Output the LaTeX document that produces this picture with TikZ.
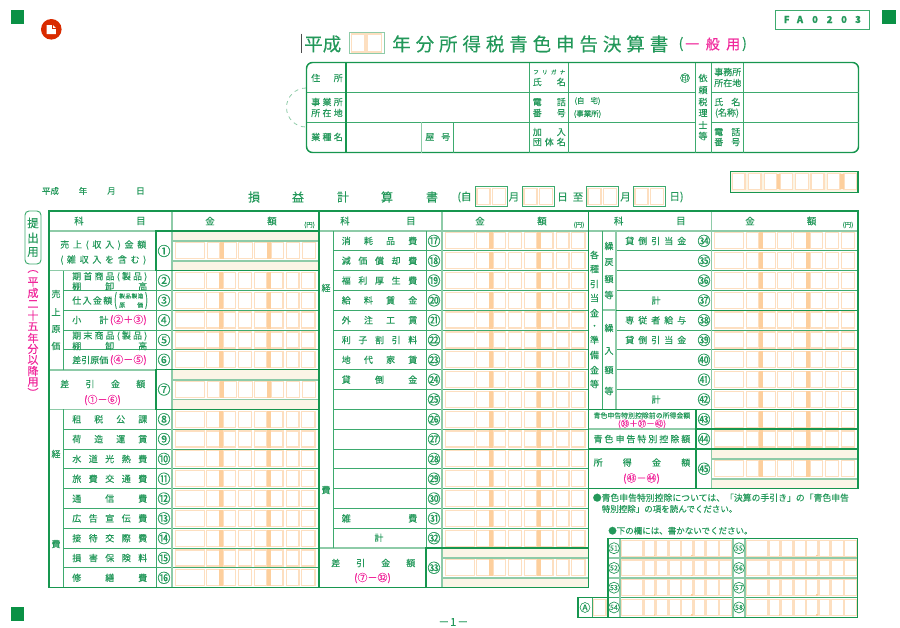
\documentclass[tikz,border=0pt]{standalone}
\usepackage{fontspec}
\setmainfont{Noto Sans CJK JP}[FakeBold=0.25]
\newlength\px
\setlength\px{0.75pt}
\definecolor{sqgreen}{HTML}{0A9145}
\definecolor{dgreen}{HTML}{17964F}
\definecolor{mgreen}{HTML}{3DAA6E}
\definecolor{lgreen}{HTML}{8ECBA8}
\definecolor{tgreen}{HTML}{23985A}
\definecolor{rosa}{HTML}{F0289B}
\definecolor{cellor}{HTML}{FDDFC0}
\definecolor{baror}{HTML}{FDCF9D}
\definecolor{cream}{HTML}{FBF5E6}
\newcommand\fs[1]{\fontsize{#1\px}{#1\px}\selectfont}
% spread the letters of a word over a fixed width
\def\spaced#1{\expandafter\spacedi#1\relax}
\def\spacedi#1#2{#1\ifx#2\relax\else\hfil\expandafter\spacedi\expandafter#2\fi}
\tikzset{
  lab/.style={inner sep=0pt,text=tgreen,font=\fs{9}},
  numl/.style={inner sep=0pt,text=tgreen,font=\fs{13}},
  frame/.style={draw=dgreen,line width=1.1pt},
  thin line/.style={draw=mgreen,line width=0.7pt},
  wide line/.style={draw=lgreen,line width=1.3pt},
  cellbox/.style={draw=cellor,line width=0.9pt},
  numc/.style={circle,draw=tgreen,line width=0.5pt,inner sep=0pt,minimum size=11\px,text=tgreen,font=\fs{7}},
}
% \lab[options]{x1}{x2}{y}{text}
\newcommand\lab[5][]{%
  \pgfmathsetlengthmacro\labw{(#3-#2)*0.75pt}%
  \node[lab,anchor=west,#1] at (#2,#4) {\makebox[\labw][s]{\spaced{#5}}};}
% the eight boxes of one amount, #1 = left of column, #2 = top of row
\newcommand\amt[2]{%
  \begin{scope}[shift={(#1,#2)}]
    \foreach \a/\b in {3.3/32.3,34.7/47.3,51.3/63.7,66.3/79.7,82.3/94.7,98.7/111,114.3/127,129.7/143}
      \draw[cellbox] (\a,1.8) rectangle (\b,17.8);
    \fill[baror] (47.3,1.2) rectangle (51.3,18.4);
    \fill[baror] (94.7,1.2) rectangle (98.7,18.4);
  \end{scope}}
% amount with a band above and below, #2 = top of the double row
\newcommand\amtband[2]{%
  \pgfmathsetmacro\midy{#2+10}
  \pgfmathsetmacro\loy{#2+29.8}
  \fill[cream] (#1,#2) rectangle ++(146.5,10);
  \fill[cream] (#1,\loy) rectangle ++(146.5,9.8);
  \amt{#1}{\midy}
  \draw[wide line] (#1,\midy) -- ++(146.5,0);
  \draw[wide line] (#1,\loy) -- ++(146.5,0);}
% two boxes for the date
\newcommand\datebox[2]{%
  \draw[thin line] (#1,#2) rectangle ++(32.5,19.5);
  \draw[cellbox] (#1+2,#2+2) rectangle ++(13,16);
  \draw[cellbox] (#1+17.5,#2+2) rectangle ++(13,16);}
\begin{document}
\begin{tikzpicture}[x=0.75pt,y=-0.75pt]
  \useasboundingbox (0,0) rectangle (900,628);

  % Corner marks
  \fill[sqgreen] (11,10) rectangle (24.3,23.7);
  \fill[sqgreen] (882,10) rectangle (895.5,23.7);
  \fill[sqgreen] (11,607) rectangle (24.3,621);
  \fill[red!60!orange!85!black] (51.3,29.3) circle (10.3);
  \fill[white] (46.7,25) -- (52.8,25) -- (55.8,28) -- (55.8,34) -- (46.7,34) -- cycle;
  \draw[red!60!orange!85!black,line width=0.4pt] (52.5,25) -- (52.5,28.3) -- (55.8,28.3);

  % Title
  \draw[black!70,line width=0.8pt] (301.5,33.6) -- (301.5,53);
  \lab[font=\fs{18.5}]{304}{341}{44}{平成}
  \draw[thin line,draw=lgreen] (349,32) rectangle (384,53.5);
  \draw[cellbox] (351.5,34) rectangle (365,52);
  \draw[cellbox] (367,34) rectangle (381.5,52);
  \lab[font=\fs{18.5}]{392}{668}{44}{年分所得税青色申告決算書}
  \node[lab,font=\fs{14}] (open) at (681,44) {(};
  \lab[font=\fs{14},text=rosa]{685}{740}{44}{一般用}
  \node[lab,font=\fs{14}] (close) at (744.5,44) {)};

  % Form number
  \draw[thin line] (775,10) rectangle (869.3,29);
  \foreach \x/\c in {786.7/F,800/A,815/0,829.6/2,844/0,858/3}
    \node[lab,font=\bfseries\fs{9.5}] at (\x,19.5) {\c};

  % Address block
  \draw[dashed,draw=lgreen,line width=0.6pt] (306,88) arc (270:90:19.5);
  \draw[frame,fill=white,rounded corners=6\px] (306.5,62.5) rectangle (858.5,152.5);
  \draw[thin line] (306.5,92.5) -- (695.5,92.5) (306.5,122) -- (695.5,122);
  \draw[thin line] (711.5,92.5) -- (858.5,92.5) (711.5,122) -- (858.5,122);
  \draw[draw=dgreen,line width=0.8pt] (346,62.5) -- (346,152.5);
  \draw[wide line,line width=0.7pt] (421.5,122) -- (421.5,152.5);
  \draw[thin line] (453.5,122) -- (453.5,152.5);
  \foreach \x in {529,568.5,695.5,711.5,743}
    \draw[thin line] (\x,62.5) -- (\x,152.5);
  \lab{311}{342.5}{78}{住所}
  \lab{311}{342.5}{102}{事業所}
  \lab{311}{342.5}{113}{所在地}
  \lab{311}{342.5}{137}{業種名}
  \lab{425}{450}{137}{屋号}
  \lab[font=\fs{5.5}]{533}{565}{72}{フリガナ}
  \lab{532.5}{565.5}{82}{氏名}
  \lab{532.5}{565.5}{102}{電話}
  \lab{532.5}{565.5}{113}{番号}
  \lab{532.5}{565.5}{132}{加入}
  \lab{532.5}{565.5}{142}{団体名}
  \node[lab,font=\fs{7.5}] (home) at (587.5,101) {(自\hspace{6\px}宅)};
  \node[lab,font=\fs{7.5}] (office) at (587.5,114) {(事業所)};
  \node[lab,font=\fs{10}] (seal) at (685,78) {㊞};
  \foreach \y/\c in {78/依,90/頼,102/税,113/理,125/士,136/等}
    \node[lab] at (703,\y) {\c};
  \lab{714}{740}{72}{事務所}
  \lab{714}{740}{83}{所在地}
  \lab{714}{740}{102}{氏名}
  \node[lab] (meisho) at (727,113) {(名称)};
  \lab{714}{740}{132}{電話}
  \lab{714}{740}{142}{番号}

  % Date line
  \foreach \a/\c in {50.5/平成,83/年,111.5/月,140.5/日}
    \node[lab,font=\fs{8.5}] at (\a,191) {\c};
  \foreach \a/\c in {254/損,298/益,343/計,387/算,432/書}
    \node[lab,font=\fs{12}] at (\a,197) {\c};
  \node[lab,font=\fs{10.5}] (from) at (464.5,197) {(自};
  \datebox{475}{186.5}
  \node[lab,font=\fs{10.5}] (m1) at (514,197) {月};
  \datebox{522}{186.5}
  \node[lab,font=\fs{10.5}] (d1) at (562.5,197) {日};
  \node[lab,font=\fs{10.5}] (to) at (578,197) {至};
  \datebox{586}{186.5}
  \node[lab,font=\fs{10.5}] (m2) at (625.5,197) {月};
  \datebox{633}{186.5}
  \node[lab,font=\fs{10.5}] (d2) at (676.5,197) {日)};

  % Box above the table
  \fill[cream] (730.7,171.7) rectangle (858,192.3);
  \foreach \a/\b in {732.7/745,748.3/761,764.3/776.7,780/792.7,795.7/808.3,811/824,827.3/840,844/856.7}
    \draw[cellbox,fill=white] (\a,173.5) rectangle (\b,189.3);
  \fill[baror] (776.7,173.5) rectangle (780,189.3);
  \fill[baror] (840,173.5) rectangle (844,189.3);
  \draw[frame] (730.7,171.7) rectangle (858,192.3);

  % Side notes
  \draw[thin line,rounded corners=4\px] (25,211) rectangle (41,264);
  \foreach \y/\c in {223/提,238/出,252/用}
    \node[lab,font=\fs{11.5}] at (33,\y) {\c};
  \foreach \y/\c in {271.5/︵,282/平,293/成,304/二,315.5/十,326.5/五,338/年,349/分,360/以,371/降,382/用,392.5/︶}
    \node[lab,font=\fs{11},text=rosa] at (33,\y) {\c};

  % Amount boxes
  \foreach \k in {2,...,6,9,10,...,17}{
    \pgfmathsetmacro\yy{231+19.82*\k}
    \amt{172}{\yy}}
  \foreach \k in {0,...,15}{
    \pgfmathsetmacro\yy{231+19.82*\k}
    \amt{442}{\yy}}
  \foreach \k in {0,...,10}{
    \pgfmathsetmacro\yy{231+19.82*\k}
    \amt{711.5}{\yy}}
  \amtband{172.5}{231}
  \amtband{172.5}{369.7}
  \amtband{442}{548}
  \amtband{711.5}{449}

  % Row lines
  \foreach \k in {3,...,6,10,11,...,17}{
    \pgfmathsetmacro\yy{231+19.82*\k}
    \draw[thin line] (63,\yy) -- (319,\yy);}
  \foreach \k in {1,...,15}{
    \pgfmathsetmacro\yy{231+19.82*\k}
    \draw[thin line] (333,\yy) -- (588.5,\yy);}
  \foreach \k in {1,2,3,5,6,7,8}{
    \pgfmathsetmacro\yy{231+19.82*\k}
    \draw[thin line] (616,\yy) -- (858,\yy);}
  \draw[wide line] (49,270.6) -- (156,270.6);
  \draw[wide line] (49,369.7) -- (156,369.7);
  \draw[wide line] (49,409.4) -- (156,409.4);
  \draw[wide line] (319,548) -- (426,548);
  \draw[wide line] (588.5,429.2) -- (696,429.2);
  \draw[wide line] (588.5,449) -- (696,449);
  \draw[wide line] (602,310.3) -- (616,310.3);
  \draw[wide line] (49,231) -- (858,231);

  % Column lines
  \draw[wide line] (172,211) -- (172,587.7);
  \draw[wide line] (442,211) -- (442,587.7);
  \draw[wide line] (711.5,211) -- (711.5,488.7);
  \draw[wide line] (616,231) -- (616,409.4);
  \draw[thin line] (602,231) -- (602,409.4);
  \draw[thin line] (333,231) -- (333,548);
  \draw[thin line] (63,270.6) -- (63,369.7);
  \draw[thin line] (63,409.4) -- (63,587.7);
  \draw[thin line] (156,231) -- (156,587.7);
  \draw[thin line] (426,231) -- (426,587.7);
  \draw[frame] (696,409.4) -- (696,488.7);

  % Heavy frames
  \draw[frame] (49,211) -- (858,211) -- (858,488.7) -- (588.5,488.7) -- (588.5,587.7) -- (49,587.7) -- cycle;
  \draw[frame] (319,211) -- (319,587.7);
  \draw[frame] (588.5,211) -- (588.5,488.7);
  \draw[frame] (156,231) rectangle (319,270.6);
  \draw[frame] (156,369.7) rectangle (319,409.4);
  \draw[frame] (426,548) rectangle (588.5,587.7);
  \draw[frame] (616,310.3) -- (858,310.3);
  \draw[frame] (588.5,409.4) -- (858,409.4);
  \draw[frame] (696,429.2) -- (858,429.2);
  \draw[frame] (588.5,449) -- (858,449);

  % Header row
  \foreach \x/\p/\q/\r/\s/\t in {0/79/141/210/272/309.5,1/345/411/480/542/579,2/618.7/681/750/811.7/848}{
    \node[lab,font=\fs{9.5}] at (\p,221) {科};
    \node[lab,font=\fs{9.5}] at (\q,221) {目};
    \node[lab,font=\fs{9.5}] at (\r,221) {金};
    \node[lab,font=\fs{9.5}] at (\s,221) {額};
    \node[lab,font=\fs{6.5}] at (\t,225) {(円)};}

  % Left column
  \lab{60}{146}{245}{売上(収入)金額}
  \lab{60}{146}{260}{(雑収入を含む)}
  \foreach \y/\c in {294/売,312/上,329/原,346/価}
    \node[lab] at (56,\y) {\c};
  \lab{72}{147}{276.7}{期首商品(製品)}
  \lab{72}{147}{286.3}{棚卸高}
  \lab{72}{112}{300.5}{仕入金額}
  \node[lab] (parl) at (115.5,300.5) {\scalebox{1}[1.9]{(}};
  \node[lab] (parr) at (146.5,300.5) {\scalebox{1}[1.9]{)}};
  \lab[font=\fs{5.5}]{119}{143}{296}{製品製造}
  \lab[font=\fs{6}]{119}{143}{305}{原価}
  \lab{72}{108}{320}{小計}
  \node[lab,text=rosa,anchor=east,font=\fs{10}] (sum) at (147,320) {(②＋③)};
  \lab{72}{147}{336}{期末商品(製品)}
  \lab{72}{147}{346}{棚卸高}
  \lab{72}{103}{360}{差引原価}
  \node[lab,text=rosa,anchor=east,font=\fs{10}] (diff) at (147,360) {(④－⑤)};
  \lab{60}{145}{384}{差引金額}
  \node[lab,text=rosa,font=\fs{10}] (profit) at (102.5,400) {(①－⑥)};
  \node[lab] (kei) at (56,454) {経};
  \node[lab] (hi) at (56,544) {費};
  \foreach \k/\t in {9/租税公課,10/荷造運賃,11/水道光熱費,12/旅費交通費,13/通信費,14/広告宣伝費,15/接待交際費,16/損害保険料,17/修繕費}{
    \pgfmathsetmacro\yy{231+19.82*\k+9.9}
    \lab{72}{147}{\yy}{\t}}
  \foreach \k/\n in {2/②,3/③,4/④,5/⑤,6/⑥,9/⑧,10/⑨,11/⑩,12/⑪,13/⑫,14/⑬,15/⑭,16/⑮,17/⑯}{
    \pgfmathsetmacro\yy{231+19.82*\k+9.9}
    \node[numl] at (164,\yy) {\n};}
  \node[numl] (n1) at (164,251) {①};
  \node[numl] (n7) at (164,389.5) {⑦};

  % Middle column
  \node[lab] (kei2) at (326,288) {経};
  \node[lab] (hi2) at (326,490) {費};
  \foreach \k/\t in {0/消耗品費,1/減価償却費,2/福利厚生費,3/給料賃金,4/外注工賃,5/利子割引料,6/地代家賃,7/貸倒金,14/雑費}{
    \pgfmathsetmacro\yy{231+19.82*\k+9.9}
    \lab{341.5}{417}{\yy}{\t}}
  \node[lab] (sub1) at (379,537.7) {計};
  \foreach \k/\n in {0/⑰,1/⑱,2/⑲,3/⑳,4/㉑,5/㉒,6/㉓,7/㉔,8/㉕,9/㉖,10/㉗,11/㉘,12/㉙,13/㉚,14/㉛,15/㉜}{
    \pgfmathsetmacro\yy{231+19.82*\k+9.9}
    \node[numl] at (434,\yy) {\n};}
  \node[numl] (n33) at (434,567.8) {㉝};
  \lab{331}{415}{563}{差引金額}
  \node[lab,text=rosa,font=\fs{10}] (net) at (372.5,578) {(⑦－㉜)};

  % Right column
  \foreach \y/\c in {255/各,269/種,284/引,298/当,313/金,327/・,340/準,355/備,370/金,384/等}
    \node[lab] at (594.5,\y) {\c};
  \foreach \y/\c in {246/繰,262/戻,279/額,295/等,328/繰,351/入,370/額,391/等}
    \node[lab] at (609,\y) {\c};
  \foreach \k/\t in {0/貸倒引当金,5/貸倒引当金,4/専従者給与}{
    \pgfmathsetmacro\yy{231+19.82*\k+9.9}
    \lab{625}{686}{\yy}{\t}}
  \node[lab] (sub2) at (656,300.5) {計};
  \node[lab] (sub3) at (656,399.5) {計};
  \foreach \k/\n in {0/㉞,1/㉟,2/㊱,3/㊲,4/㊳,5/㊴,6/㊵,7/㊶,8/㊷,9/㊸,10/㊹}{
    \pgfmathsetmacro\yy{231+19.82*\k+9.9}
    \node[numl] at (704,\yy) {\n};}
  \node[numl] (n45) at (704,468.8) {㊺};
  \lab[font=\fs{6.9}]{593.3}{690}{415.5}{青色申告特別控除前の所得金額}
  \node[lab,text=rosa,font=\fs{8.5}] (pre) at (642,424) {(㉝＋㊲－㊷)};
  \lab{593.3}{690}{439}{青色申告特別控除額}
  \lab{593.3}{690}{462.5}{所得金額}
  \node[lab,text=rosa,font=\fs{10}] (inc) at (641.5,478.5) {(㊸－㊹)};

  % Notes
  \node[lab,anchor=west,font=\fs{8.85}] (note1) at (592.5,497.7) {●青色申告特別控除については、「決算の手引き」の「青色申告};
  \node[lab,anchor=west,font=\fs{8.5}] (note2) at (601.5,509) {特別控除」の項を読んでください。};
  \node[lab,anchor=west,font=\fs{8.5}] (note3) at (608,530.7) {●下の欄には、書かないでください。};

  % Lower grid
  \foreach \k in {0,1,2,3}{
    \pgfmathsetmacro\yy{538.3+19.75*\k}
    \foreach \xx in {620,745}{
      \begin{scope}[shift={(\xx,\yy)}]
        \foreach \a/\b in {1.7/22.7,24/35,36/47.7,49/60.7,61.7/72.7,74/85,86/98.3,99/111.7}
          \draw[cellbox] (\a,2) rectangle (\b,17.8);
        \fill[baror] (33.5,16.5) rectangle (35,18);
        \fill[baror] (71.2,16.5) rectangle (72.7,18);
      \end{scope}}}
  \draw[cellbox] (593.5,599.2) rectangle (606,615.6);
  \foreach \y in {558.05,577.8}
    \draw[wide line] (608,\y) -- (857.7,\y);
  \draw[thin line] (608,597.5) -- (857.7,597.5);
  \foreach \x in {620,733,745}
    \draw[wide line] (\x,538.3) -- (\x,617.3);
  \draw[frame] (608,538.3) -- (857.7,538.3) -- (857.7,617.3) -- (578,617.3) -- (578,597.5) -- (608,597.5) -- cycle;
  \draw[thin line] (592.3,597.5) -- (592.3,617.3);
  \draw[frame,line width=0.8pt] (608,597.5) -- (608,617.3);
  \foreach \k/\a/\b in {0/51/55,1/52/56,2/53/57,3/54/58}{
    \pgfmathsetmacro\yy{548.2+19.75*\k}
    \node[numc] at (614,\yy) {\a};
    \node[numc] at (739,\yy) {\b};}
  \node[lab,font=\fs{11}] (na) at (585,607.5) {Ⓐ};

  % Page number
  \lab[font=\fs{11}]{438}{468}{622}{－1－}
\end{tikzpicture}
\end{document}
